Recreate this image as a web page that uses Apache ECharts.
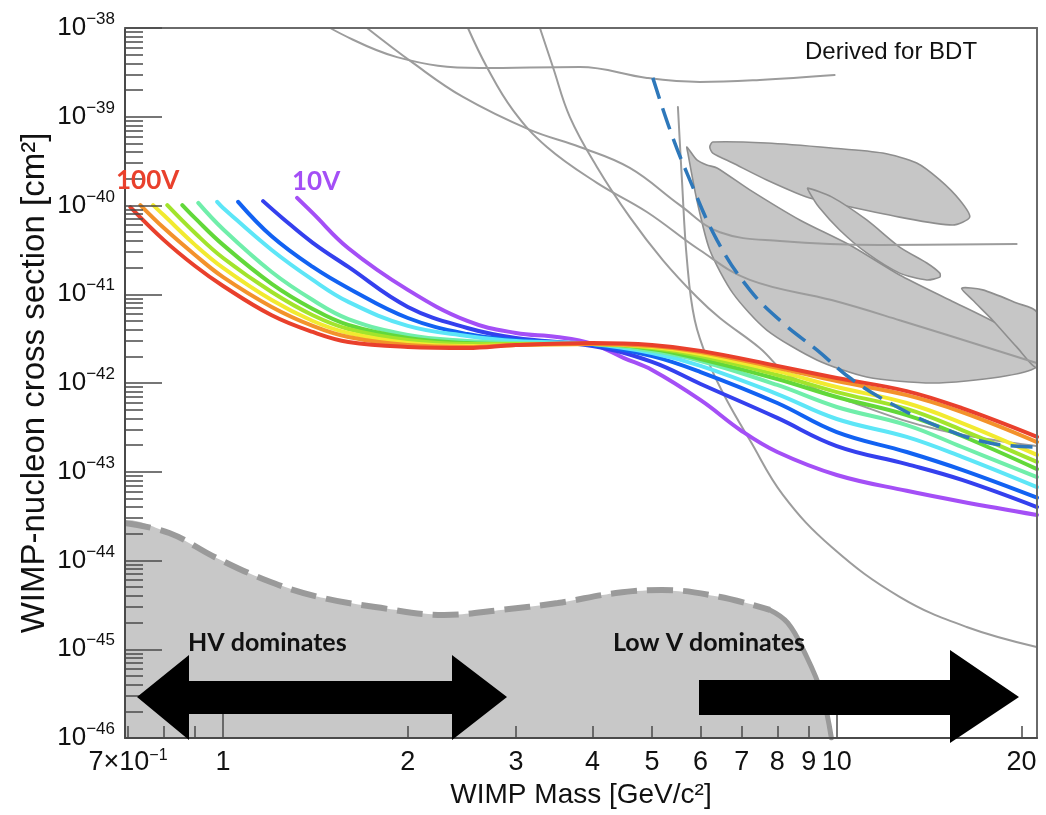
<!DOCTYPE html>
<html>
<head>
<meta charset="utf-8">
<script src="https://cdn.jsdelivr.net/npm/echarts@6/dist/echarts.min.js"></script>
<style>
  html, body { margin: 0; padding: 0; background: #ffffff; }
  #chart { width: 1046px; height: 815px; }
</style>
</head>
<body>
<div id="chart"></div>
<script>
// ---- axes: WIMP mass [GeV/c^2] and cross section decades [log10 cm^2] ----
const massRange = [0.692, 21.2];
const massLabels = [0.7, 1, 2, 3, 4, 5, 6, 7, 8, 9, 10, 20];
const massMinorTicks = [0.7, 0.8, 0.9, 2, 3, 4, 5, 6, 7, 8, 9, 20];
const massMajorTicks = [1, 10];
const sigmaDecades = [-46, -45, -44, -43, -42, -41, -40, -39, -38];

// ---- projected sensitivity per bias voltage: [mass GeV/c^2, sigma cm^2] ----
const curve100V = [[0.706,9.6e-41],[0.8,4.1e-41],[0.9,2.08e-41],[1.0,1.24e-41],[1.2,5.8e-42],[1.4,3.76e-42],[1.6,2.9e-42],[2,2.55e-42],[2.5,2.48e-42],[3,2.68e-42],[4,2.82e-42],[5,2.68e-42],[6,2.3e-42],[8,1.56e-42],[10,1.14e-42],[13,8.1e-43],[16,5.2e-43],[21.2,2.47e-43]];
const curve90V  = [[0.733,1.01e-40],[0.8,5.6e-41],[0.9,2.77e-41],[1.0,1.56e-41],[1.2,7.2e-42],[1.4,4.4e-42],[1.6,3.3e-42],[2,2.68e-42],[2.5,2.55e-42],[3,2.68e-42],[4,2.75e-42],[5,2.61e-42],[6,2.24e-42],[8,1.48e-42],[10,1.05e-42],[13,7.3e-43],[16,4.7e-43],[21.2,2.16e-43]];
const curve80V  = [[0.769,1.01e-40],[0.8,7.8e-41],[0.9,3.6e-41],[1.0,1.98e-41],[1.2,8.6e-42],[1.4,5.0e-42],[1.6,3.66e-42],[2,2.82e-42],[2.5,2.61e-42],[3,2.68e-42],[4,2.75e-42],[5,2.55e-42],[6,2.12e-42],[8,1.36e-42],[10,9.0e-43],[13,5.95e-43],[16,3.54e-43],[21.2,1.55e-43]];
const curve70V  = [[0.811,1.01e-40],[0.9,4.9e-41],[1.0,2.56e-41],[1.2,1.06e-41],[1.4,5.8e-42],[1.6,4.06e-42],[2,3.05e-42],[2.5,2.75e-42],[3,2.75e-42],[4,2.75e-42],[5,2.48e-42],[6,2.01e-42],[8,1.23e-42],[10,7.9e-43],[13,5.1e-43],[16,2.95e-43],[21.2,1.29e-43]];
const curve60V  = [[0.858,1.01e-40],[0.9,7.2e-41],[1.0,3.6e-41],[1.2,1.31e-41],[1.4,6.82e-42],[1.6,4.5e-42],[2,3.21e-42],[2.5,2.82e-42],[3,2.75e-42],[4,2.75e-42],[5,2.42e-42],[6,1.86e-42],[8,1.11e-42],[10,6.95e-43],[13,4.35e-43],[16,2.53e-43],[21.2,1.07e-43]];
const curve50V  = [[0.911,1.07e-40],[1.0,5.4e-41],[1.2,1.78e-41],[1.4,8.6e-42],[1.6,5.26e-42],[2,3.48e-42],[2.5,2.97e-42],[3,2.82e-42],[4,2.75e-42],[5,2.3e-42],[6,1.77e-42],[8,9.5e-43],[10,5.37e-43],[13,3.36e-43],[16,1.9e-43],[21.2,8.7e-44]];
const curve40V  = [[0.978,1.1e-40],[1.0,9.4e-41],[1.2,3.15e-41],[1.4,1.45e-41],[1.6,8.2e-42],[2,4.4e-42],[2.5,3.39e-42],[3,2.97e-42],[4,2.75e-42],[5,2.18e-42],[6,1.56e-42],[8,7.5e-43],[10,3.93e-43],[13,2.47e-43],[16,1.47e-43],[21.2,6.7e-44]];
const curve30V  = [[1.058,1.1e-40],[1.2,4.5e-41],[1.4,2.03e-41],[1.6,1.17e-41],[2,5.4e-42],[2.5,3.56e-42],[3,3.05e-42],[4,2.68e-42],[5,2.01e-42],[6,1.33e-42],[8,5.95e-43],[10,2.8e-43],[13,1.67e-43],[16,1.05e-43],[21.2,5.1e-44]];
const curve20V  = [[1.162,1.12e-40],[1.25,7.2e-41],[1.4,3.8e-41],[1.6,2.03e-41],[2,7.2e-42],[2.5,4.17e-42],[3,3.21e-42],[4,2.61e-42],[5,1.73e-42],[6,9.75e-43],[8,4.04e-43],[10,1.95e-43],[13,1.22e-43],[16,8.1e-44],[21.2,4.0e-44]];
const curve10V  = [[1.32,1.22e-40],[1.4,8.2e-41],[1.6,3.3e-41],[2,1.12e-41],[2.5,5.0e-42],[3,3.66e-42],[3.5,3.3e-42],[4,2.75e-42],[4.5,1.91e-42],[5,1.4e-42],[6,6.4e-43],[7,2.88e-43],[8,1.67e-43],[10,9.2e-44],[13,6.1e-44],[16,4.6e-44],[21.2,3.26e-44]];

// ---- existing limits (thin grey) and BDT-derived curve (blue dashed) ----
const limitA = [[1.494,1e-38],[1.92,4.7e-39],[2.622,3.54e-39],[3.814,3.64e-39],[4.905,2.74e-39],[5.98,2.47e-39],[7.49,2.6e-39],[9.92,2.95e-39]];
const limitB = [[1.716,1e-38],[2.039,4.04e-39],[2.46,1.67e-39],[3.163,7.1e-40],[3.814,4.56e-40],[4.6,2.65e-40],[5.55,1.01e-40],[6.45,5.0e-41],[8.08,3.98e-41],[11.75,3.59e-41],[19.64,3.68e-41]];
const limitC = [[2.506,1e-38],[2.69,3.64e-39],[2.967,1.19e-39],[3.37,4.56e-40],[4.066,1.8e-40],[4.905,8.45e-41],[5.98,3.15e-41],[7.216,1.45e-41],[9.81,8.6e-42],[12.66,5.1e-42],[21.17,1.68e-42]];
const limitD = [[3.283,1e-38],[3.447,3.64e-39],[3.674,9.9e-40],[4.066,2.72e-40],[4.6,7.4e-41],[5.206,2.43e-41],[5.916,9.3e-42],[6.45,5.4e-42],[7.49,2.48e-42],[8.385,1.2e-42],[10.9,5.65e-43],[14.72,2.95e-43],[21.17,1.95e-43]];
const limitE = [[5.51,1.29e-39],[5.594,1.94e-40],[5.70,2.43e-41],[5.87,5.1e-42],[6.21,1.6e-42],[6.62,6.4e-43],[7.216,2.28e-43],[8.17,5.5e-44],[9.81,1.42e-44],[12.66,3.9e-45],[16.28,1.78e-45],[21.17,1.06e-45]];
const bdtCurve = [[5.015,2.74e-39],[5.35,7.1e-40],[5.70,2.32e-40],[6.38,4.08e-41],[7.216,1.12e-41],[8.17,4.74e-42],[9.28,2.36e-42],[10.62,1.08e-42],[12.66,5.2e-43],[14.72,3.19e-43],[17.75,2.11e-43],[21.17,1.9e-43]];

// ---- allowed regions (grey contours) ----
const regionUpper = [[6.21,4.56e-40],[6.28,5.19e-40],[7.69,5.06e-40],[9.81,4.45e-40],[11.88,3.9e-40],[13.5,3.01e-40],[14.72,1.94e-40],[15.86,1.15e-40],[16.47,7.4e-41],[15.45,6.03e-41],[12.66,7.4e-41],[9.81,1.07e-40],[8.93,1.25e-40],[7.69,1.94e-40],[6.77,3.01e-40],[6.28,3.9e-40]];
const regionMiddle = [[8.97,1.57e-40],[9.81,1.25e-40],[11.19,6.87e-41],[12.66,3.4e-41],[14.02,2.25e-41],[14.72,1.73e-41],[14.72,1.56e-41],[14.02,1.45e-41],[12.66,1.73e-41],[11.19,2.92e-41],[10.11,5.3e-41],[9.35,9.6e-41],[9.04,1.38e-40]];
const regionLarge = [[5.70,4.56e-40],[5.916,3.26e-40],[6.14,2.86e-40],[6.38,2.65e-40],[7.216,1.5e-40],[8.703,6.87e-41],[10.5,3.59e-41],[12.66,1.65e-41],[15.28,8.6e-42],[18.43,4.5e-42],[21.17,2.36e-42],[21.17,1.51e-42],[18.43,1.17e-42],[14.33,1.0e-42],[11.19,1.17e-42],[9.28,1.82e-42],[7.69,3.95e-42],[6.77,1.03e-41],[6.21,3.15e-41],[5.916,1.15e-40],[5.72,3.9e-40]];
const regionRight = [[15.98,1.17e-41],[17.29,1.12e-41],[19.64,7.96e-42],[21.17,6.3e-42],[21.17,1.51e-42],[19.64,2.55e-42],[17.95,5.1e-42],[16.65,8.6e-42]];

// ---- discovery floor (grey band, dashed top) ----
const floorBoundary = [[0.692,2.65e-44],[0.817,2.04e-44],[0.97,1.09e-44],[1.175,6.0e-45],[1.428,3.9e-45],[1.769,2.99e-45],[2.29,2.43e-45],[2.836,2.77e-45],[3.51,3.32e-45],[4.365,4.3e-45],[5.19,4.66e-45],[6.43,3.9e-45],[7.78,2.77e-45],[8.32,1.98e-45],[8.87,9.1e-46],[9.45,3.2e-46],[9.8,1.0e-46]];
const floorDashEnd = 7.78;

const voltageSeries = [
  { name: '10 V',  data: curve10V,  color: '#a44ff6' },
  { name: '20 V',  data: curve20V,  color: '#3440ee' },
  { name: '30 V',  data: curve30V,  color: '#1262f2' },
  { name: '40 V',  data: curve40V,  color: '#5de6f7' },
  { name: '50 V',  data: curve50V,  color: '#70eeaa' },
  { name: '60 V',  data: curve60V,  color: '#62d83a' },
  { name: '70 V',  data: curve70V,  color: '#a2e42c' },
  { name: '80 V',  data: curve80V,  color: '#f2ea30' },
  { name: '90 V',  data: curve90V,  color: '#f3922b' },
  { name: '100 V', data: curve100V, color: '#e9402c' }
];

const lg = Math.log10;
const X_MIN = lg(massRange[0]);
const X_MAX = lg(massRange[1]);
const Y_MIN = sigmaDecades[0];
const Y_MAX = sigmaDecades[sigmaDecades.length - 1];
const toXY = pts => pts.map(p => [lg(p[0]), lg(p[1])]);

const yMinorTicks = [];
for (let d = Y_MIN; d < Y_MAX; d++) {
  for (let k = 2; k <= 9; k++) yMinorTicks.push(d + lg(k));
}

const FONT = 'Liberation Sans, Arial, sans-serif';
const AXIS_COLOR = '#4a4a4a';
const GREY_LINE = '#9c9c9c';
const REGION_FILL = '#c6c6c6';
const REGION_EDGE = '#8e8e8e';

function curveSeries(name, pts, color, width, z, extra) {
  return Object.assign({
    name: name,
    type: 'line',
    xAxisIndex: 0, yAxisIndex: 0,
    data: toXY(pts),
    symbol: 'none', showSymbol: false,
    smooth: 0.4,
    silent: true, z: z, clip: true,
    lineStyle: { color: color, width: width, cap: 'round', join: 'round' }
  }, extra || {});
}

function regionSeries(name, pts, fill, stroke, z) {
  return {
    name: name,
    type: 'custom',
    coordinateSystem: 'cartesian2d',
    xAxisIndex: 0, yAxisIndex: 0,
    silent: true, z: z, clip: true,
    data: [[X_MIN, Y_MIN]],
    renderItem: function (params, api) {
      return {
        type: 'polygon',
        shape: { points: pts.map(p => api.coord([lg(p[0]), lg(p[1])])), smooth: 0.25 },
        style: { fill: fill, stroke: stroke || null, lineWidth: stroke ? 1.6 : 0 }
      };
    }
  };
}

const floorPolygon = floorBoundary.concat([
  [floorBoundary[floorBoundary.length - 1][0], Math.pow(10, Y_MIN)],
  [massRange[0], Math.pow(10, Y_MIN)]
]);

const series = [
  regionSeries('floor', floorPolygon, '#c8c8c8', null, 1),
  regionSeries('regionLarge', regionLarge, REGION_FILL, REGION_EDGE, 1),
  regionSeries('regionRight', regionRight, REGION_FILL, REGION_EDGE, 1),
  regionSeries('regionUpper', regionUpper, REGION_FILL, REGION_EDGE, 1),
  regionSeries('regionMiddle', regionMiddle, REGION_FILL, REGION_EDGE, 1),
  curveSeries('limitA', limitA, GREY_LINE, 2, 2),
  curveSeries('limitB', limitB, GREY_LINE, 2, 2),
  curveSeries('limitC', limitC, GREY_LINE, 2, 2),
  curveSeries('limitD', limitD, GREY_LINE, 2, 2),
  curveSeries('limitE', limitE, GREY_LINE, 2, 2),
  curveSeries('floorDashed', floorBoundary.filter(p => p[0] <= floorDashEnd), '#9a9a9a', 6, 2,
    { lineStyle: { color: '#9a9a9a', width: 6, type: [26, 10], cap: 'butt' } }),
  curveSeries('floorEdge', floorBoundary.filter(p => p[0] >= floorDashEnd), '#9a9a9a', 5, 2)
];
voltageSeries.forEach(v => series.push(curveSeries(v.name, v.data, v.color, 4, 3)));
series.push(curveSeries('BDT', bdtCurve, '#2e78ba', 3.5, 4,
  { lineStyle: { color: '#2e78ba', width: 3.5, type: [22, 10], cap: 'butt' } }));

const chart = echarts.init(document.getElementById('chart'), null, { renderer: 'canvas' });

const xLabelRich = {
  b: { fontFamily: FONT, fontSize: 27, color: '#111', lineHeight: 30 },
  s: { fontFamily: FONT, fontSize: 16, color: '#111', lineHeight: 16, verticalAlign: 'top' }
};
const yLabelRich = {
  b: { fontFamily: FONT, fontSize: 26, color: '#111', lineHeight: 34 },
  s: { fontFamily: FONT, fontSize: 17, color: '#111', lineHeight: 17, verticalAlign: 'top' }
};

const option = {
  animation: false,
  backgroundColor: '#ffffff',
  textStyle: { fontFamily: FONT },
  grid: { left: 125, right: 9, top: 28, bottom: 77, containLabel: false, outerBoundsMode: 'none' },
  xAxis: [
    {
      type: 'value', position: 'bottom', min: X_MIN, max: X_MAX, z: 6,
      axisLine: { show: true, onZero: false, lineStyle: { color: AXIS_COLOR, width: 2 } },
      axisTick: { show: true, inside: true, length: 12, customValues: massMinorTicks.map(lg),
                  lineStyle: { color: AXIS_COLOR, width: 1.5 } },
      axisLabel: {
        show: true, margin: 10, customValues: massLabels.map(lg), rich: xLabelRich,
        formatter: function (v) {
          const m = Math.pow(10, v);
          if (Math.abs(m - 0.7) < 1e-6) return '{b|7×10}{s|−1}';
          return '{b|' + Math.round(m) + '}';
        }
      },
      splitLine: { show: false },
      name: 'WIMP Mass [GeV/c²]', nameLocation: 'middle', nameGap: 43, nameMoveOverlap: false,
      nameTextStyle: { fontFamily: FONT, fontSize: 28, color: '#111' }
    },
    {
      type: 'value', position: 'bottom', offset: 0, min: X_MIN, max: X_MAX, z: 6,
      axisLine: { show: false, onZero: false },
      axisTick: { show: true, inside: true, length: 24, customValues: massMajorTicks.map(lg),
                  lineStyle: { color: AXIS_COLOR, width: 1.5 } },
      axisLabel: { show: false }, splitLine: { show: false }
    },
    {
      type: 'value', position: 'top', offset: 0, min: X_MIN, max: X_MAX, z: 6,
      axisLine: { show: true, onZero: false, lineStyle: { color: '#6a6a6a', width: 2 } },
      axisTick: { show: false }, axisLabel: { show: false }, splitLine: { show: false }
    }
  ],
  yAxis: [
    {
      type: 'value', position: 'left', min: Y_MIN, max: Y_MAX, z: 6,
      axisLine: { show: true, onZero: false, lineStyle: { color: AXIS_COLOR, width: 2 } },
      axisTick: { show: true, inside: true, length: 18, customValues: yMinorTicks,
                  lineStyle: { color: AXIS_COLOR, width: 1.5 } },
      axisLabel: {
        show: true, margin: 10, customValues: sigmaDecades, rich: yLabelRich,
        formatter: function (v) { return '{b|10}{s|−' + Math.abs(Math.round(v)) + '}'; }
      },
      splitLine: { show: false },
      name: 'WIMP-nucleon cross section [cm²]', nameLocation: 'middle', nameGap: 74, nameMoveOverlap: false,
      nameTextStyle: { fontFamily: FONT, fontSize: 33, color: '#111' }
    },
    {
      type: 'value', position: 'left', offset: 0, min: Y_MIN, max: Y_MAX, z: 6,
      axisLine: { show: false, onZero: false },
      axisTick: { show: true, inside: true, length: 37, customValues: sigmaDecades,
                  lineStyle: { color: AXIS_COLOR, width: 1.5 } },
      axisLabel: { show: false }, splitLine: { show: false }
    },
    {
      type: 'value', position: 'right', offset: 0, min: Y_MIN, max: Y_MAX, z: 6,
      axisLine: { show: true, onZero: false, lineStyle: { color: '#6a6a6a', width: 2 } },
      axisTick: { show: false }, axisLabel: { show: false }, splitLine: { show: false }
    }
  ],
  series: series,
  graphic: [
    {
      type: 'polygon', z: 100, silent: true,
      shape: { points: [[137,697],[189,655],[189,681],[452,681],[452,655],[507,697],[452,740],[452,714],[189,714],[189,740]] },
      style: { fill: '#000000' }
    },
    {
      type: 'polygon', z: 100, silent: true,
      shape: { points: [[699,680],[950,680],[950,650],[1019,697],[950,743],[950,715],[699,715]] },
      style: { fill: '#000000' }
    },
    {
      type: 'text', z: 100, silent: true, x: 188, y: 643,
      style: { text: 'HV dominates', font: 'bold 25px Lato, "Open Sans", sans-serif', fill: '#111',
               textAlign: 'left', textVerticalAlign: 'middle', align: 'left', verticalAlign: 'middle' }
    },
    {
      type: 'text', z: 100, silent: true, x: 613, y: 643,
      style: { text: 'Low V dominates', font: 'bold 25px Lato, "Open Sans", sans-serif', fill: '#111',
               textAlign: 'left', textVerticalAlign: 'middle', align: 'left', verticalAlign: 'middle' }
    },
    {
      type: 'text', z: 100, silent: true, x: 116, y: 181,
      style: { text: '100V', font: 'bold 26px Lato, "Open Sans", sans-serif', fill: '#e9402c',
               textAlign: 'left', textVerticalAlign: 'middle', align: 'left', verticalAlign: 'middle' }
    },
    {
      type: 'text', z: 100, silent: true, x: 292, y: 182,
      style: { text: '10V', font: 'bold 26px Lato, "Open Sans", sans-serif', fill: '#a44ff6',
               textAlign: 'left', textVerticalAlign: 'middle', align: 'left', verticalAlign: 'middle' }
    },
    {
      type: 'text', z: 100, silent: true, x: 805, y: 52,
      style: { text: 'Derived for BDT', font: '24px "Liberation Sans", Arial, sans-serif', fill: '#111',
               textAlign: 'left', textVerticalAlign: 'middle', align: 'left', verticalAlign: 'middle' }
    }
  ]
};

chart.setOption(option);
</script>
</body>
</html>
